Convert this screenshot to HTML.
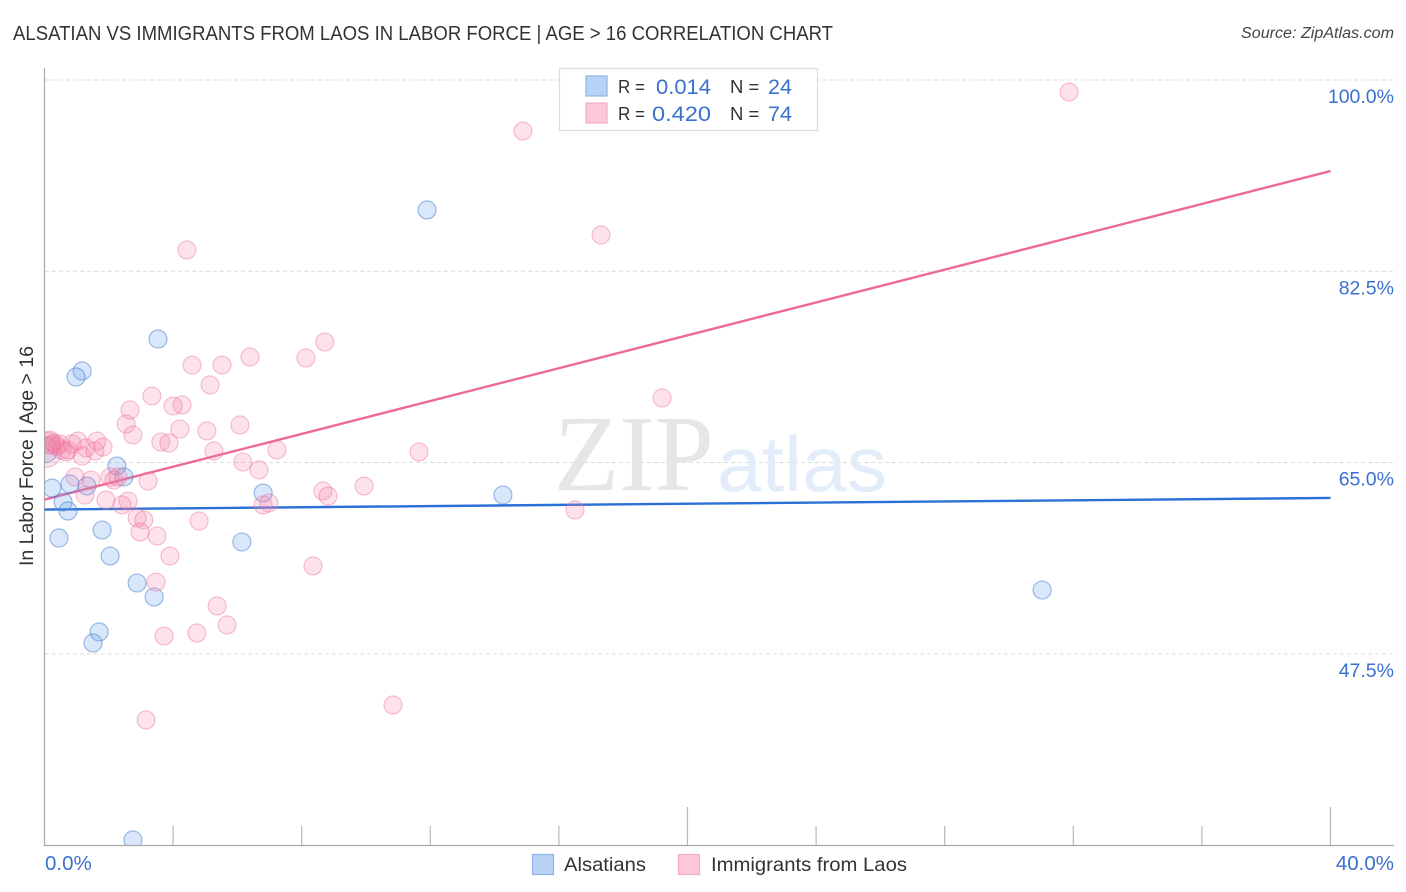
<!DOCTYPE html>
<html lang="en">
<head>
<meta charset="utf-8">
<title>Alsatian vs Immigrants from Laos in Labor Force | Age > 16 Correlation Chart</title>
<style>
html,body{margin:0;padding:0;background:#fff;width:1406px;height:892px;overflow:hidden}
svg{display:block}
text{font-family:"Liberation Sans",sans-serif}
</style>
</head>
<body>
<svg id="chart" width="1406" height="892" viewBox="0 0 1406 892" xmlns="http://www.w3.org/2000/svg">
<defs><clipPath id="plot-clip"><rect x="45" y="68" width="1349" height="777"/></clipPath></defs>
<text x="13" y="40" font-size="20" fill="#333" textLength="820" lengthAdjust="spacingAndGlyphs">ALSATIAN VS IMMIGRANTS FROM LAOS IN LABOR FORCE | AGE &gt; 16 CORRELATION CHART</text>
<text x="1394" y="38" font-size="15.5" font-style="italic" fill="#444" text-anchor="end" textLength="153" lengthAdjust="spacingAndGlyphs">Source: ZipAtlas.com</text>
<text transform="translate(33,566) rotate(-90)" font-size="19.5" fill="#333" textLength="220" lengthAdjust="spacingAndGlyphs">In Labor Force | Age &gt; 16</text>
<g id="grid"></g>
<g>
<text x="554" y="490" font-size="108" fill="#e6e6e6" style="font-family:'Liberation Serif',serif" textLength="160" lengthAdjust="spacingAndGlyphs">ZIP</text>
<text x="717" y="491" font-size="78" fill="#e3edfa" textLength="170" lengthAdjust="spacingAndGlyphs">atlas</text>
</g>
<g id="axes"></g>
<g id="lines"></g>
<g id="points" clip-path="url(#plot-clip)"></g>
<g id="labels"></g>
<g>
<rect x="559.5" y="68.5" width="258" height="62" fill="#fff" stroke="#dcdcdc" stroke-width="1.2"/>
<rect x="586" y="76" width="21" height="20" fill="#b9d3f6" stroke="#8fb3e6" stroke-width="1.2"/>
<rect x="586" y="103" width="21" height="20" fill="#fcc8da" stroke="#f3aec6" stroke-width="1.2"/>
<text x="618" y="93" font-size="18.5" fill="#333" textLength="27" lengthAdjust="spacingAndGlyphs">R =</text>
<text x="711" y="94" font-size="21" fill="#3a70cf" text-anchor="end" textLength="55" lengthAdjust="spacingAndGlyphs">0.014</text>
<text x="730" y="93" font-size="18.5" fill="#333">N =</text>
<text x="792" y="94" font-size="21" fill="#3a70cf" text-anchor="end" textLength="24" lengthAdjust="spacingAndGlyphs">24</text>
<text x="618" y="120" font-size="18.5" fill="#333" textLength="27" lengthAdjust="spacingAndGlyphs">R =</text>
<text x="711" y="121" font-size="21" fill="#3a70cf" text-anchor="end" textLength="59" lengthAdjust="spacingAndGlyphs">0.420</text>
<text x="730" y="120" font-size="18.5" fill="#333">N =</text>
<text x="792" y="121" font-size="21" fill="#3a70cf" text-anchor="end" textLength="24" lengthAdjust="spacingAndGlyphs">74</text>
</g>
<g>
<rect x="532.5" y="854.5" width="21" height="20" fill="#b9d3f6" stroke="#8fb3e6" stroke-width="1.2"/>
<text x="564" y="871" font-size="19.5" fill="#333" textLength="82" lengthAdjust="spacingAndGlyphs">Alsatians</text>
<rect x="678.5" y="854.5" width="21" height="20" fill="#fcc8da" stroke="#f3aec6" stroke-width="1.2"/>
<text x="711" y="871" font-size="19.5" fill="#333" textLength="196" lengthAdjust="spacingAndGlyphs">Immigrants from Laos</text>
</g>
</svg>
<script>
const yTicks = [100, 82.5, 65, 47.5];
const yTickLabels = ["100.0%", "82.5%", "65.0%", "47.5%"];
const xTicks = [0, 4, 8, 12, 16, 20, 24, 28, 32, 36, 40];
const xMajorTicks = [20, 40];
const xEndTicks = [0, 40];
const xEndLabels = ["0.0%", "40.0%"];

const blueX = [0.02, 11.90, 3.53, 1.17, 0.98, 2.25, 2.47, 1.32, 0.79, 0.23, 0.58, 0.73, 6.80, 14.26, 1.79, 0.45, 6.14, 2.04, 2.88, 3.41, 31.03, 1.70, 1.51, 2.75];
const blueY = [66.15, 88.11, 76.30, 73.38, 72.83, 64.68, 63.68, 62.85, 63.04, 62.67, 61.39, 60.57, 62.21, 62.03, 58.83, 58.10, 57.73, 56.45, 53.98, 52.70, 53.34, 49.50, 48.49, 30.47];
const blueWeight = [1.4];

const pinkX = [0.05, 0.11, 0.17, 0.23, 0.30, 0.39, 0.48, 0.54, 0.67, 0.73, 0.86, 1.04, 1.17, 1.29, 1.63, 1.57, 1.82, 0.95, 1.45, 2.04, 2.16, 2.29,
  31.87, 14.88, 17.31, 4.43, 8.72, 6.39, 8.13, 4.59, 5.52, 5.15, 19.21, 3.34, 4.28, 4.00, 2.66, 2.54, 6.08, 4.21, 5.05, 2.75, 3.62, 3.87, 11.65, 7.23, 5.27, 6.17, 6.67, 9.94, 8.66, 8.82, 3.22, 6.80, 6.98, 16.50, 2.41, 2.60, 1.91, 1.26, 4.81, 2.88, 3.09, 2.97, 3.50, 3.90, 8.35, 3.47, 5.37, 5.68, 4.74, 3.72, 10.84, 3.16];
const pinkY = [66.00, 66.79, 66.97, 66.61, 66.79, 66.51, 66.70, 66.15, 65.97, 66.15, 66.70, 66.97, 65.60, 66.33, 66.97, 66.06, 66.42, 63.68, 63.40, 63.68, 63.40, 63.68,
  98.90, 95.33, 85.82, 84.45, 76.03, 74.66, 74.57, 73.92, 73.92, 72.10, 70.91, 71.09, 70.27, 70.17, 69.81, 68.53, 68.44, 68.07, 67.89, 67.52, 66.88, 66.79, 65.97, 66.15, 66.06, 65.05, 64.32, 62.85, 62.40, 61.94, 63.31, 61.12, 61.30, 60.66, 61.12, 61.48, 61.57, 62.03, 59.65, 59.93, 59.74, 58.65, 58.28, 56.45, 55.54, 54.07, 51.88, 50.14, 49.41, 49.13, 42.82, 41.45];
const pinkWeight = [1.75, 1.2, 1.1];

const fitX = [0, 40];
const blueFitY = [60.70, 61.76];
const pinkFitY = [61.61, 91.67];

const NS = "http://www.w3.org/2000/svg";
const xScale = v => 44.5 + v * 32.15;
const yScale = v => 80 + (100 - v) * 10.93;
const make = (tag, attrs, parent) => {
  const el = document.createElementNS(NS, tag);
  Object.keys(attrs).forEach(k => el.setAttribute(k, attrs[k]));
  parent.appendChild(el);
  return el;
};

const grid = document.getElementById("grid");
const axes = document.getElementById("axes");
const lines = document.getElementById("lines");
const points = document.getElementById("points");
const labels = document.getElementById("labels");

yTicks.forEach((t, i) => {
  const g = make("line", {x1: 45, x2: 1394, y1: yScale(t), y2: yScale(t), stroke: "#dcdcdc", "stroke-width": 1, "stroke-dasharray": "4 3"}, grid);
  
  
  const tx = make("text", {x: 1394, y: yScale(t) + 23, "font-size": 19.5, fill: "#3a70cf", "text-anchor": "end"}, labels);
  
  
  tx.textContent = yTickLabels[i];
});

const yAxis = make("line", {x1: 44.5, x2: 44.5, y1: 68, y2: 846, stroke: "#aaa", "stroke-width": 1.2}, axes);


const xAxis = make("line", {x1: 44, x2: 1394, y1: 845.5, y2: 845.5, stroke: "#aaa", "stroke-width": 1.2}, axes);



xTicks.forEach(t => {
  if (t === 0) return;
  const top = xMajorTicks.indexOf(t) >= 0 ? 807 : 826;
  const tick = make("line", {x1: xScale(t), x2: xScale(t), y1: top, y2: 845, stroke: "#b8b8b8", "stroke-width": 1.2}, axes);
  
  
});

xEndTicks.forEach((t, i) => {
  const tx = make("text", {x: i === 0 ? xScale(t) + 0.5 : 1394, y: 870, "font-size": 20.5, fill: "#3a70cf", "text-anchor": i === 0 ? "start" : "end"}, labels);
  
  
  tx.textContent = xEndLabels[i];
});

const blueLine = make("line", {x1: xScale(fitX[0]), x2: xScale(fitX[1]), y1: yScale(blueFitY[0]), y2: yScale(blueFitY[1]), stroke: "#2a70d6", "stroke-width": 2.4}, lines);


const pinkLine = make("line", {x1: xScale(fitX[0]), x2: xScale(fitX[1]), y1: yScale(pinkFitY[0]), y2: yScale(pinkFitY[1]), stroke: "#ec6a97", "stroke-width": 2.4}, lines);



blueX.forEach((v, i) => {
  const c = make("circle", {cx: xScale(v), cy: yScale(blueY[i]), r: 9 * (blueWeight[i] || 1), fill: "rgba(100,160,235,0.25)", stroke: "rgba(70,125,205,0.55)", "stroke-width": 1.1}, points);
  
  
});
pinkX.forEach((v, i) => {
  const c = make("circle", {cx: xScale(v), cy: yScale(pinkY[i]), r: 9 * (pinkWeight[i] || 1), fill: "rgba(245,130,170,0.23)", stroke: "rgba(232,110,155,0.45)", "stroke-width": 1.1}, points);
  
  
});
</script>
</body>
</html>
